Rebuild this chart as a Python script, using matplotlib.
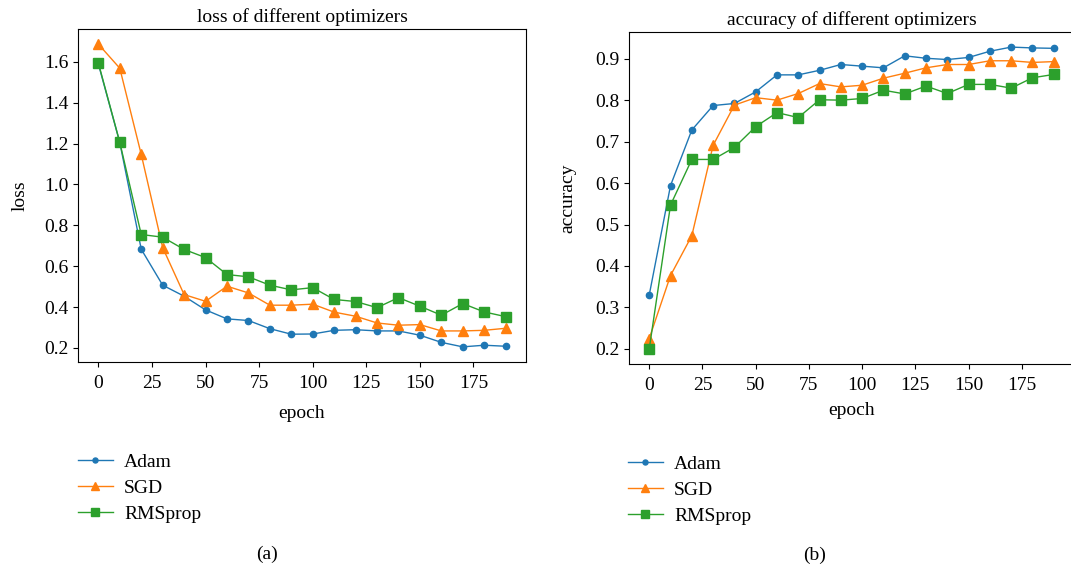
import matplotlib
matplotlib.use("Agg")
import matplotlib.pyplot as plt

epochs = list(range(0, 200, 10))

loss_adam = [1.59, 1.205, 0.683, 0.507, 0.453, 0.386, 0.342, 0.334, 0.294, 0.267,
             0.268, 0.286, 0.289, 0.283, 0.283, 0.262, 0.227, 0.205, 0.213, 0.208]
loss_sgd = [1.687, 1.569, 1.147, 0.691, 0.461, 0.428, 0.502, 0.469, 0.409, 0.409,
            0.414, 0.375, 0.355, 0.322, 0.311, 0.314, 0.283, 0.283, 0.286, 0.296]
loss_rms = [1.595, 1.206, 0.755, 0.742, 0.682, 0.642, 0.559, 0.548, 0.507, 0.484,
            0.495, 0.437, 0.427, 0.397, 0.446, 0.404, 0.360, 0.417, 0.376, 0.353]

acc_adam = [0.330, 0.594, 0.728, 0.787, 0.792, 0.820, 0.861, 0.861, 0.872, 0.886,
            0.882, 0.878, 0.907, 0.901, 0.898, 0.903, 0.918, 0.928, 0.926, 0.925]
acc_sgd = [0.225, 0.377, 0.473, 0.691, 0.788, 0.806, 0.800, 0.816, 0.840, 0.832,
           0.836, 0.853, 0.865, 0.878, 0.886, 0.886, 0.895, 0.895, 0.891, 0.893]
acc_rms = [0.200, 0.547, 0.657, 0.657, 0.686, 0.736, 0.770, 0.758, 0.801, 0.800,
           0.804, 0.824, 0.815, 0.834, 0.816, 0.838, 0.838, 0.829, 0.854, 0.862]

names = ["Adam", "SGD", "RMSprop"]
x_ticks = [0, 25, 50, 75, 100, 125, 150, 175]
loss_ticks = [0.2, 0.4, 0.6, 0.8, 1.0, 1.2, 1.4, 1.6]
acc_ticks = [0.2, 0.3, 0.4, 0.5, 0.6, 0.7, 0.8, 0.9]

plt.rcParams['font.family'] = ['Liberation Serif', 'DejaVu Serif']
FS = 14

W, H = 1071, 571
fig = plt.figure(figsize=(W / 100, H / 100), dpi=100)

def box(l, t, r, b):
    return [l / W, 1 - b / H, (r - l) / W, (b - t) / H]

ax1 = fig.add_axes(box(78, 29, 526, 362))
ax2 = fig.add_axes(box(629, 32, 1074, 364))

styles = [dict(color='#1f77b4', marker='o', markersize=4.5),
          dict(color='#ff7f0e', marker='^', markersize=7.5),
          dict(color='#2ca02c', marker='s', markersize=7.5)]

for ax, series, title, ylabel, yt, ylp in [
        (ax1, [loss_adam, loss_sgd, loss_rms], "loss of different optimizers", "loss", loss_ticks, 11),
        (ax2, [acc_adam, acc_sgd, acc_rms], "accuracy of different optimizers", "accuracy", acc_ticks, 13)]:
    for s, name, st in zip(series, names, styles):
        ax.plot(epochs, s, label=name, linewidth=1.0, **st)
    ax.set_title(title, fontsize=FS, pad=5)
    ax.set_ylabel(ylabel, fontsize=FS, labelpad=ylp)
    ax.tick_params(labelsize=FS)
    ax.tick_params(axis='x', pad=5.5)
    ax.set_xticks(x_ticks)
    ax.set_yticks(yt)
    ax.set_yticklabels([f"{v:.1f}" for v in yt])

ax1.set_xlabel("epoch", fontsize=FS, labelpad=10)
ax2.set_xlabel("epoch", fontsize=FS, labelpad=6)
ax2.spines['right'].set_visible(False)

h, l = ax1.get_legend_handles_labels()
for x0, y0 in [(60, 436), (610, 438)]:
    fig.legend(h, l, loc='upper left', bbox_to_anchor=(x0 / W, 1 - y0 / H),
               frameon=False, fontsize=FS, handlelength=1.8, labelspacing=0.42,
               handletextpad=0.6, markerscale=0.8)

fig.text(267 / W, 1 - 554 / H, "(a)", ha='center', va='center', fontsize=FS)
fig.text(815 / W, 1 - 555 / H, "(b)", ha='center', va='center', fontsize=FS)

fig.savefig("out.png", dpi=100)
